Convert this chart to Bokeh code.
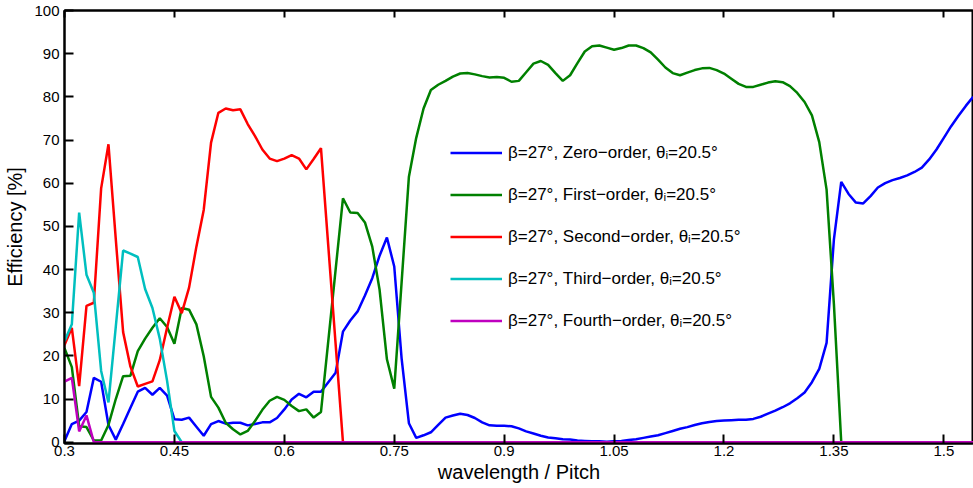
import numpy as np
from bokeh.plotting import figure
from bokeh.models import (ColumnDataSource, LinearAxis, FixedTicker, Legend,
                          LegendItem, Range1d)
from bokeh.embed import file_html
from bokeh.resources import INLINE

# wavelength / pitch sampling grid (0.30 ... 1.54, step 0.01)
wavelength = np.round(0.30 + 0.01 * np.arange(125), 2)

zero_order = [
    0.3, 4.2, 5.0, 7.0, 14.9, 14.0, 4.0, 0.6, 4.2, 8.0,
    11.7, 12.6, 11.0, 12.6, 10.8, 5.3, 5.2, 5.7, 3.6, 1.5,
    4.2, 4.9, 4.3, 4.5, 4.5, 3.9, 4.2, 4.6, 4.6, 5.6,
    7.6, 9.9, 11.2, 10.4, 11.7, 11.7, 13.9, 16.1, 25.6, 28.2,
    30.3, 34.0, 38.0, 43.2, 47.4, 40.7, 19.5, 4.4, 1.0, 1.6,
    2.3, 4.0, 5.7, 6.2, 6.6, 6.3, 5.6, 4.6, 3.9, 3.8,
    3.8, 3.7, 3.2, 2.5, 2.0, 1.5, 1.1, 0.9, 0.7, 0.6,
    0.4, 0.3, 0.2, 0.2, 0.1, 0.2, 0.3, 0.5, 0.7, 1.0,
    1.3, 1.6, 2.1, 2.6, 3.1, 3.5, 4.0, 4.4, 4.7, 4.9,
    5.0, 5.1, 5.2, 5.2, 5.4, 5.9, 6.6, 7.3, 8.1, 9.0,
    10.2, 11.5, 13.9, 17.0, 23.0, 47.0, 60.3, 57.5, 55.5, 55.3,
    57.0, 59.0, 60.0, 60.7, 61.2, 61.8, 62.6, 63.6, 65.5, 67.8,
    70.5, 73.2, 75.6, 77.9, 80.0,
]

first_order = [
    21.8, 17.4, 3.7, 3.5, 0.4, 0.4, 4.0, 10.0, 15.3, 15.4,
    21.1, 24.0, 26.5, 28.7, 26.7, 22.8, 31.1, 30.7, 27.3, 19.9,
    10.5, 8.0, 4.5, 3.0, 1.8, 2.6, 4.9, 7.5, 9.6, 10.5,
    9.8, 8.4, 7.2, 7.6, 5.7, 7.0, 23.5, 40.0, 56.5, 53.2,
    53.1, 50.9, 45.3, 35.3, 19.2, 12.4, 36.9, 61.5, 70.5, 77.3,
    81.6, 82.8, 83.7, 84.7, 85.4, 85.5, 85.2, 84.8, 84.5, 84.6,
    84.4, 83.5, 83.7, 85.7, 87.7, 88.3, 87.4, 85.5, 83.7, 85.0,
    87.8, 90.5, 91.7, 91.9, 91.4, 90.9, 91.3, 91.9, 91.9, 91.3,
    90.3, 88.6, 86.8, 85.5, 85.0, 85.6, 86.2, 86.6, 86.7, 86.2,
    85.4, 84.2, 83.0, 82.3, 82.3, 82.8, 83.3, 83.6, 83.4, 82.5,
    80.9, 78.8, 75.7, 69.5, 58.5, 32.0, 0.0, 0.0, 0.0, 0.0,
] + [0.0] * 15

second_order = [
    22.5, 26.5, 13.0, 31.6, 32.3, 58.8, 69.0, 47.0, 25.5, 17.5,
    12.9, 13.5, 14.1, 19.0, 26.5, 33.7, 29.9, 35.8, 45.3, 53.8,
    69.4, 76.3, 77.3, 76.9, 77.1, 73.7, 70.9, 67.8, 65.7, 65.1,
    65.7, 66.5, 65.7, 63.2, 65.6, 68.1, 45.4, 22.7, 0.0, 0.0,
] + [0.0] * 85

third_order = [
    23.4, 27.3, 53.2, 38.8, 34.6, 16.5, 9.2, 26.8, 44.4, 43.7,
    42.9, 35.5, 31.1, 24.0, 14.2, 2.6,
] + [0.0] * 109

fourth_order = [14.0, 14.9, 2.5, 6.2] + [0.0] * 121

series_names = ["Zero", "First", "Second", "Third", "Fourth"]
series_values = [zero_order, first_order, second_order, third_order, fourth_order]
series_colors = ["#0000FF", "#008000", "#FF0000", "#00BFBF", "#BF00BF"]

x_ticks = [0.3, 0.45, 0.6, 0.75, 0.9, 1.05, 1.2, 1.35, 1.5]
x_tick_labels = ["0.3", "0.45", "0.6", "0.75", "0.9", "1.05", "1.2", "1.35", "1.5"]
y_ticks = [0, 10, 20, 30, 40, 50, 60, 70, 80, 90, 100]

FONT = "Liberation Sans"

p = figure(width=973, height=488, output_backend="svg", toolbar_location=None,
           x_range=Range1d(0.3, 1.5405), y_range=Range1d(-0.3, 100),
           min_border_left=64, min_border_right=0, min_border_top=10,
           min_border_bottom=45, background_fill_color="white",
           border_fill_color="white")

p.xgrid.grid_line_color = None
p.ygrid.grid_line_color = None
p.outline_line_color = "black"
p.outline_line_width = 2

src = {"x": wavelength}
for name, vals in zip(series_names, series_values):
    src[name] = vals
source = ColumnDataSource(src)

items = []
for name, color in zip(series_names, series_colors):
    r = p.line("x", name, source=source, line_color=color, line_width=2.5)
    items.append(LegendItem(label=f"β=27°, {name}−order, θᵢ=20.5°", renderers=[r]))

# axes styling
for ax in (p.xaxis[0], p.yaxis[0]):
    ax.axis_line_width = 2
    ax.major_tick_line_width = 2
    ax.major_tick_in = 9
    ax.major_tick_out = 0
    ax.minor_tick_line_color = None
    ax.major_label_text_font = FONT
    ax.major_label_text_font_size = "15px"
    ax.major_label_text_color = "black"
    ax.axis_label_text_font = FONT
    ax.axis_label_text_font_style = "normal"
    ax.axis_label_text_font_size = "20px"
    ax.axis_label_text_color = "black"

p.xaxis.ticker = FixedTicker(ticks=x_ticks)
p.xaxis.major_label_overrides = {t: s for t, s in zip(x_ticks, x_tick_labels)}
p.xaxis.axis_label = "wavelength / Pitch"
p.xaxis.major_label_standoff = 2
p.xaxis.axis_label_standoff = 2

p.yaxis.ticker = FixedTicker(ticks=y_ticks)
p.yaxis.axis_label = "Efficiency [%]"
p.yaxis.major_label_standoff = 5
p.yaxis.axis_label_standoff = 5

top_axis = LinearAxis(ticker=FixedTicker(ticks=x_ticks), axis_line_width=2,
                      major_tick_line_width=2, major_tick_in=7, major_tick_out=0,
                      minor_tick_line_color=None, major_label_text_font_size="1px",
                      major_label_text_color=None, major_label_standoff=0)
p.add_layout(top_axis, "above")

legend = Legend(items=items, location=(386, 112), border_line_color=None,
                background_fill_alpha=0, glyph_width=52, glyph_height=21,
                label_height=21, spacing=21, padding=0, margin=0,
                label_standoff=6, label_text_font=FONT,
                label_text_font_size="17px", label_text_color="black")
p.add_layout(legend)

open("out.html", "w").write(file_html(p, INLINE))
